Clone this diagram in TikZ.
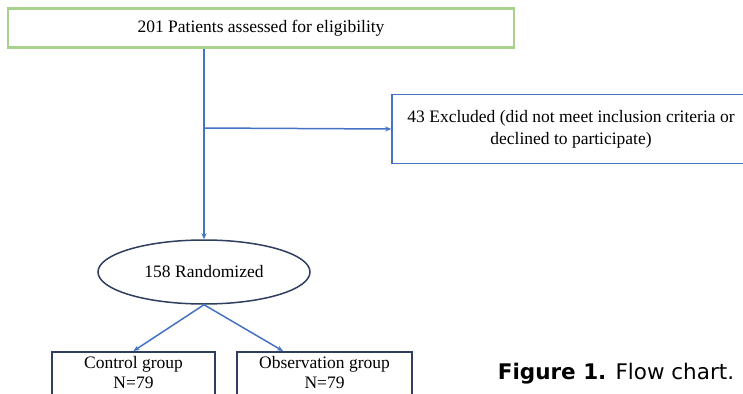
\documentclass[tikz,border=0pt]{standalone}
\usepackage{fontspec}
\setmainfont{Liberation Serif}
\newfontfamily\capfont{DejaVu Sans}
\usepackage{tikz}
\usetikzlibrary{arrows.meta, shapes.geometric, calc}
\definecolor{boxgreen}{HTML}{A9D18E}
\definecolor{flowblue}{HTML}{4472C4}
\definecolor{navy}{HTML}{2F3E5E}
\tikzset{
	flow/.style={flowblue, line width=1.5pt, -{Stealth[length=6pt, width=5pt]}},
	startbox/.style={draw=boxgreen, line width=2.6pt, rectangle, font=\fontsize{17.5}{20}\selectfont},
	exclbox/.style={draw=flowblue, line width=1.6pt, rectangle, align=center, font=\fontsize{17.5}{22}\selectfont},
	randell/.style={draw=navy, line width=1.5pt, ellipse, font=\fontsize{17.5}{20}\selectfont},
	grpbox/.style={draw=navy, line width=1.5pt, rectangle, align=center, anchor=north, inner ysep=4.5pt, font=\fontsize{17.5}{20}\selectfont}
}
\begin{document}
\begin{tikzpicture}[x=1pt,y=-1pt]
	\useasboundingbox (0,0) rectangle (743,393);
	\clip (0,0) rectangle (743,393);
	% boxes
	\path (261,28) node [startbox, minimum width=506pt, minimum height=39pt] (start) {201 Patients assessed for eligibility};
	\path (571,129) node [exclbox, minimum width=358pt, minimum height=69pt] (excl) {43 Excluded (did not meet inclusion criteria or\\declined to participate)};
	\path (204,272) node [randell, minimum width=212pt, minimum height=64pt] (rand) {158 Randomized};
	\path (133.5,351) node [grpbox, minimum width=163pt, text depth=45pt] (ctrl) {Control group\\N=79};
	\path (324.5,351) node [grpbox, minimum width=175pt, text depth=45pt] (obs) {Observation group\\N=79};
	\path (616,374) node [font=\capfont\fontsize{21.5}{24}\selectfont] (caption) {\textbf{Figure 1.} Flow chart.};
	% connectors
	\coordinate (split) at (204,128);
	\draw [flow] (start.south -| rand) -- (rand.north);
	\draw [flow] (split) -- (excl.west);
	\draw [flow] (rand.south) -- (ctrl.north);
	\draw [flow] (rand.south) -- ($(obs.north west)!0.265!(obs.north east)$);
\end{tikzpicture}
\end{document}
